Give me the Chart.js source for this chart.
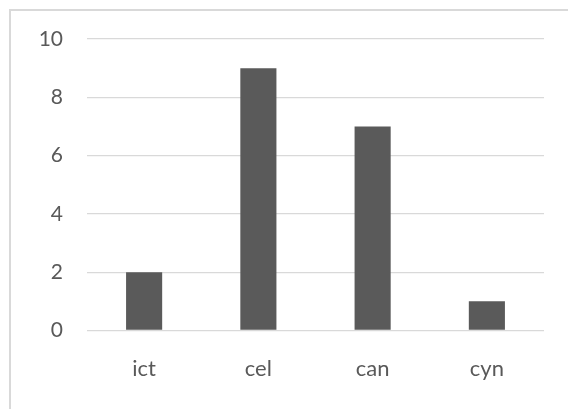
<!DOCTYPE html>
<html>
<head>
<meta charset="utf-8">
<script src="https://cdn.jsdelivr.net/npm/chart.js@4"></script>
<style>
  html, body { margin: 0; padding: 0; background: #fff; }
  #wrap { position: relative; width: 568px; height: 409px; overflow: hidden; }
  #frame { position: absolute; left: 9px; top: 9px; width: 600px; height: 440px;
           border: 2px solid #d9d9d9; box-sizing: border-box; }
  canvas { position: absolute; left: 0; top: 0; }
</style>
</head>
<body>
<div id="wrap">
  <div id="frame"></div>
  <canvas id="c" width="568" height="409"></canvas>
</div>
<script>
const categories = ['ict', 'cel', 'can', 'cyn'];
const counts = [2, 9, 7, 1];
const yTicks = [0, 2, 4, 6, 8, 10];

const textColor = '#595959';
const gridColor = '#d9d9d9';

new Chart(document.getElementById('c'), {
  type: 'bar',
  data: {
    labels: categories,
    datasets: [{
      data: counts,
      backgroundColor: '#5a5a5a',
      borderWidth: 0,
      barPercentage: 1,
      categoryPercentage: 0.316
    }]
  },
  options: {
    responsive: false,
    animation: false,
    devicePixelRatio: 1,
    layout: { padding: { top: 39, right: 24, left: 0, bottom: 0 } },
    plugins: { legend: { display: false }, tooltip: { enabled: false } },
    scales: {
      x: {
        grid: { display: false, drawTicks: false },
        border: { display: false },
        ticks: { color: textColor, font: { family: 'Lato', size: 22 }, padding: 25 },
        afterFit: s => { s.height = 78.5; }
      },
      y: {
        min: 0, max: 10,
        afterBuildTicks: s => { s.ticks = yTicks.map(v => ({ value: v })); },
        grid: { color: gridColor, lineWidth: 1.3, drawTicks: false },
        border: { display: false },
        ticks: { color: textColor, font: { family: 'Lato', size: 21 }, padding: 24 },
        afterFit: s => { s.width = 87; }
      }
    }
  }
});
</script>
</body>
</html>
